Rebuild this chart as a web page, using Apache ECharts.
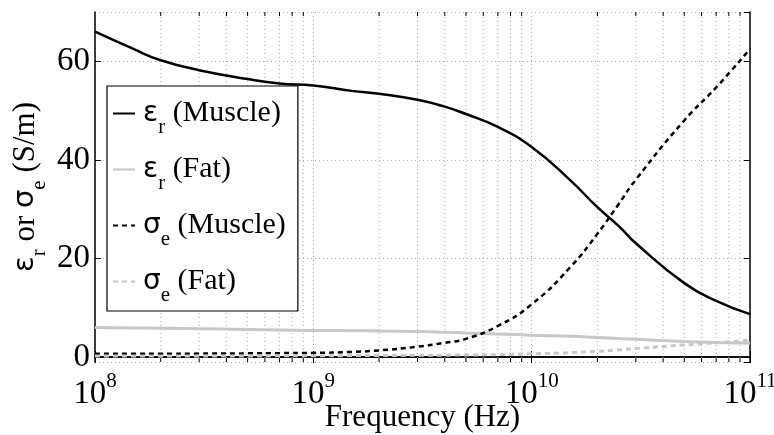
<!DOCTYPE html>
<html>
<head>
<meta charset="utf-8">
<script src="https://cdn.jsdelivr.net/npm/echarts@6/dist/echarts.min.js"></script>
<style>
  html, body { margin: 0; padding: 0; background: #fff; }
  #chart { width: 774px; height: 435px; }
</style>
</head>
<body>
<div id="chart"></div>
<script>
// frequency samples (Hz)
const freqs = [1e8, 1.5e8, 2e8, 3e8, 5e8, 7e8, 1e9, 1.5e9, 2e9, 3e9, 4e9, 5e9, 7e9,
  1e10, 1.5e10, 2e10, 2.5e10, 3e10, 5e10, 7e10, 1e11]

const epsMuscle = [66, 62.5, 60.2, 58.2, 56.4, 55.5, 55.1, 54.0, 53.4, 52.2, 50.8, 49.3, 46.7,
  42.6, 35.9, 30.4, 26.6, 23.1, 15.0, 11.4, 8.7]
const epsFat = [6.0, 5.9, 5.85, 5.75, 5.6, 5.5, 5.4, 5.35, 5.3, 5.2, 5.05, 4.9, 4.7,
  4.45, 4.2, 3.95, 3.75, 3.6, 3.15, 2.95, 2.8]
const sigMuscle = [0.65, 0.67, 0.68, 0.7, 0.75, 0.8, 0.85, 1.05, 1.35, 2.1, 2.9, 3.7, 6.3,
  10.7, 18.2, 25.0, 31.0, 36.0, 48.0, 54.7, 62.5]
const sigFat = [0.2, 0.2, 0.2, 0.22, 0.23, 0.25, 0.27, 0.3, 0.32, 0.36, 0.39, 0.42, 0.5,
  0.65, 0.9, 1.15, 1.45, 1.75, 2.45, 2.9, 3.45]

// minor grid positions: 2..9 x each decade
const decades = [1e8, 1e9, 1e10]
const minorSteps = [2, 3, 4, 5, 6, 7, 8, 9]

const seriesNames = ['εr (Muscle)', 'εr (Fat)', 'σe (Muscle)', 'σe (Fat)']
const legendLabels = [
  '{g|ε}{s|r}{n| (Muscle)}',
  '{g|ε}{s|r}{n| (Fat)}',
  '{g|σ}{s|e}{n| (Muscle)}',
  '{g|σ}{s|e}{n| (Fat)}'
]

const yMin = -1
const yMax = 70
const serif = 'Liberation Serif'
const sans = 'DejaVu Sans'
const gray = '#c8c8c8'
const gridDots = { color: '#b0b0b0', width: 1, type: [1, 3] }

const chart = echarts.init(document.getElementById('chart'))

const minorFreqs = []
decades.forEach((d) => minorSteps.forEach((m) => minorFreqs.push(d * m)))

function pairs(values) {
  return freqs.map((f, i) => [f, values[i]])
}

function makeSeries(name, values, color, dashed, width) {
  return {
    name,
    type: 'line',
    data: pairs(values),
    symbol: 'none',
    smooth: 0.5,
    lineStyle: { color, width, type: dashed ? [5, 4] : 'solid' },
    itemStyle: { color },
    silent: true,
    z: 3
  }
}

// dotted minor grid lines plus small inward ticks on top and bottom
function renderMinor(params, api) {
  const f = api.value(0)
  const lo = api.coord([f, yMin])
  const hi = api.coord([f, yMax])
  return {
    type: 'group',
    children: [
      {
        type: 'line',
        shape: { x1: lo[0], y1: lo[1], x2: hi[0], y2: hi[1] },
        style: { stroke: gridDots.color, lineWidth: 1, lineDash: [1, 3] }
      },
      {
        type: 'line',
        shape: { x1: lo[0], y1: lo[1], x2: lo[0], y2: lo[1] - 4 },
        style: { stroke: '#000', lineWidth: 1 }
      },
      {
        type: 'line',
        shape: { x1: hi[0], y1: hi[1], x2: hi[0], y2: hi[1] + 4 },
        style: { stroke: '#000', lineWidth: 1 }
      }
    ]
  }
}

const xBase = {
  type: 'log',
  logBase: 10,
  min: 1e8,
  max: 1e11,
  axisLine: { lineStyle: { color: '#000', width: 1.5 } },
  axisTick: { inside: true, length: 6, lineStyle: { color: '#000', width: 1 } }
}

const yBase = {
  type: 'value',
  min: yMin,
  max: yMax,
  splitNumber: 3,
  axisLine: { show: true, lineStyle: { color: '#000', width: 1.5 } },
  axisTick: { show: true, inside: true, length: 6, lineStyle: { color: '#000', width: 1 } }
}

const option = {
  backgroundColor: '#fff',
  animation: false,
  grid: { left: 95, right: 24, top: 12, bottom: 73, containLabel: false, outerBoundsMode: 'none' },
  legend: {
    orient: 'vertical',
    left: 107,
    top: 86,
    padding: [3, 12, 5, 5],
    itemGap: 7,
    itemWidth: 22,
    itemHeight: 14,
    borderColor: '#000',
    borderWidth: 1.2,
    backgroundColor: '#fff',
    itemStyle: { opacity: 0 },
    data: seriesNames,
    formatter: (name) => legendLabels[seriesNames.indexOf(name)],
    textStyle: {
      rich: {
        g: { fontFamily: sans, fontSize: 28, color: '#000', padding: [0, 0, 0, 3] },
        s: { fontFamily: serif, fontSize: 21, lineHeight: 20, color: '#000', padding: [28, 0, 0, 0] },
        n: { fontFamily: serif, fontSize: 30, color: '#000' }
      }
    }
  },
  xAxis: [
    Object.assign({}, xBase, {
      position: 'bottom',
      name: 'Frequency (Hz)',
      nameLocation: 'middle',
      nameGap: 40,
      nameMoveOverlap: false,
      nameTextStyle: { fontFamily: serif, fontSize: 31, color: '#000' },
      axisLabel: {
        margin: 16,
        formatter: (v) => '{b|10}{e|' + Math.round(Math.log10(v)) + '}',
        rich: {
          b: { fontFamily: serif, fontSize: 33, lineHeight: 32, color: '#000' },
          e: { fontFamily: serif, fontSize: 21, lineHeight: 20, color: '#000', padding: [0, 0, 26, 0] }
        }
      },
      splitLine: { show: true, lineStyle: gridDots }
    }),
    Object.assign({}, xBase, {
      position: 'top',
      axisLabel: { show: false },
      splitLine: { show: false }
    })
  ],
  yAxis: [
    Object.assign({}, yBase, {
      position: 'left',
      name: '{g|ε}{s|r}{n| or }{g|σ}{s|e}{n| (S/m)}',
      nameLocation: 'middle',
      nameRotate: 90,
      nameGap: 54,
      nameMoveOverlap: false,
      nameTextStyle: {
        rich: {
          g: { fontFamily: sans, fontSize: 29, color: '#000' },
          s: { fontFamily: serif, fontSize: 21, lineHeight: 20, color: '#000', padding: [28, 0, 0, 0] },
          n: { fontFamily: serif, fontSize: 31, color: '#000' }
        }
      },
      axisLabel: {
        margin: 5,
        showMinLabel: false,
        showMaxLabel: false,
        fontFamily: serif,
        fontSize: 33,
        color: '#000'
      },
      splitLine: { show: true, lineStyle: gridDots }
    }),
    Object.assign({}, yBase, {
      position: 'right',
      axisLabel: { show: false },
      splitLine: { show: false }
    })
  ],
  series: [
    {
      type: 'custom',
      data: minorFreqs.map((f) => [f, yMin]),
      renderItem: renderMinor,
      silent: true,
      z: 1
    },
    makeSeries(seriesNames[0], epsMuscle, '#000', false, 2.5),
    makeSeries(seriesNames[1], epsFat, gray, false, 3),
    makeSeries(seriesNames[2], sigMuscle, '#000', true, 2.5),
    makeSeries(seriesNames[3], sigFat, gray, true, 3)
  ]
}

chart.setOption(option)
</script>
</body>
</html>
